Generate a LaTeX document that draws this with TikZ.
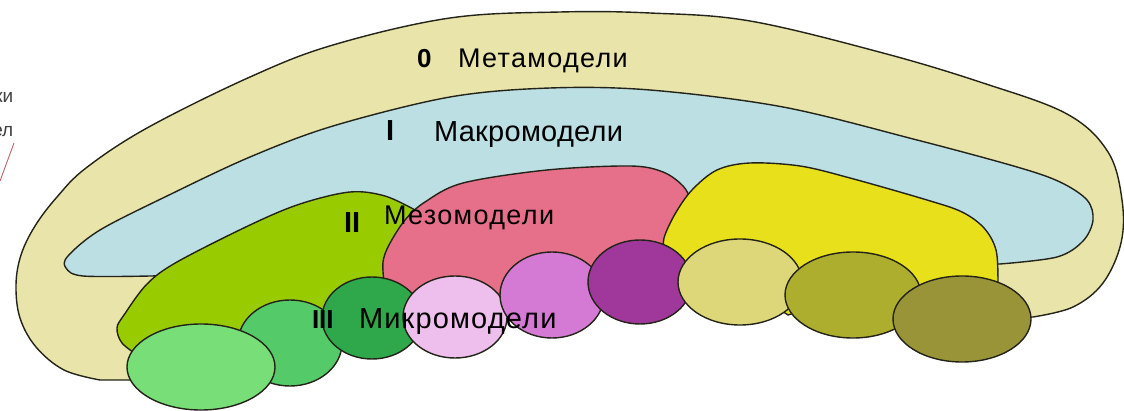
\documentclass[tikz,border=0pt]{standalone}
\usepackage{fontspec}
\setmainfont{Liberation Sans}
\usetikzlibrary{shapes.geometric}
\definecolor{cbeige}{RGB}{232,228,170}
\definecolor{cblue}{RGB}{188,223,228}
\definecolor{cgreen}{RGB}{153,204,0}
\definecolor{cpink}{RGB}{230,112,138}
\definecolor{cyellow}{RGB}{232,224,26}
\definecolor{eA}{RGB}{120,222,120}
\definecolor{eB}{RGB}{85,202,104}
\definecolor{eC}{RGB}{46,168,74}
\definecolor{eD}{RGB}{238,190,236}
\definecolor{eE}{RGB}{212,122,212}
\definecolor{eF}{RGB}{160,56,155}
\definecolor{eG}{RGB}{221,215,122}
\definecolor{eH}{RGB}{174,174,46}
\definecolor{eI}{RGB}{153,148,56}
\definecolor{cline}{RGB}{35,35,25}
\tikzset{
  region/.style={draw=cline, line width=1.4pt, line join=round},
  ell/.style={ellipse, draw=cline, line width=1.4pt, inner sep=0pt, outer sep=0pt},
  lbl/.style={inner sep=0pt, outer sep=0pt, anchor=base west, text=black},
  num/.style={lbl, font=\bfseries},
  frag/.style={inner sep=0pt, anchor=base east, text=black!75, font=\fontsize{19}{19}\selectfont},
}
\begin{document}
\begin{tikzpicture}[x=1pt,y=-1pt]
\useasboundingbox (0,0) rectangle (1124,411);
\clip (0,0) rectangle (1124,411);
% fragment of a neighbouring picture at the left edge
\node[frag] (fra) at (13.5,103) {ки};
\node[frag] (frb) at (13.5,137) {ел};
\coordinate (ra) at (14,143);
\coordinate (rb) at (0,181);
\draw[red!55!black!60, line width=0.9pt] (ra) -- (rb);
% 0 meta
\path[region, fill=cbeige] plot[smooth, tension=0.6] coordinates {(100,380) (64,370) (36,347) (20,318) (16,285) (21,255) (35,226) (57,197) (86,168) (147,128) (250,77) (333,45) (450,18) (560,12) (650,13) (750,21) (883,53) (983,83) (1067,114) (1108,152) (1122,200) (1121,243) (1103,283) (1073,307) (1033,317)}
 -- (962,319) -- (853,295) -- (740,282) -- (640,282) -- (552,295) -- (455,317) -- (372,318) -- (290,343) -- (201,367) -- (130,380) -- cycle;
% I macro
\path[region, fill=cblue] plot[smooth, tension=0.55] coordinates {(150,276) (83,276) (66,268) (68,256) (100,230) (167,196) (250,157) (333,126) (450,97) (550,88) (650,90) (783,107) (917,140) (1017,167) (1060,182) (1087,200) (1093,220) (1083,241) (1057,257) (1000,264)}
 -- (850,266) -- (700,268) -- (400,272) -- cycle;
% II meso
\path[region, fill=cgreen] plot[smooth, tension=0.55] coordinates {(140,357) (122,343) (117,328) (124,315) (147,284) (177,262) (250,225) (300,204) (350,192) (385,196) (415,210)}
 -- (430,270) -- (372,318) -- (290,343) -- (201,367) -- cycle;
\path[region, fill=cpink] plot[smooth, tension=0.55] coordinates {(384,283) (383,262) (389,245) (405,220) (425,202) (463,183) (547,170) (630,166) (663,172) (683,186) (690,200) (688,215)}
 -- (680,260) -- (640,282) -- (552,295) -- (455,317) -- (372,318) -- cycle;
\path[region, fill=cyellow] plot[smooth, tension=0.55] coordinates {(664,253) (664,238) (675,214) (692,190) (717,170) (750,163) (800,166) (850,178) (927,200) (962,212) (984,228) (996,250) (998,282) (997,298)}
 -- (962,319) -- (853,295) -- (788,315) -- (740,282) -- (640,282) -- cycle;
% III micro
\node[ell, fill=eB, minimum width=104pt, minimum height=86pt] (e2) at (290,343) {};
\node[ell, fill=eA, minimum width=148pt, minimum height=86pt] (e1) at (201,367) {};
\node[ell, fill=eC, minimum width=100pt, minimum height=82pt] (e3) at (372,318) {};
\node[ell, fill=eD, minimum width=104pt, minimum height=82pt] (e4) at (455,317) {};
\node[ell, fill=eE, minimum width=104pt, minimum height=86pt] (e5) at (552,295) {};
\node[ell, fill=eF, minimum width=104pt, minimum height=84pt] (e6) at (640,282) {};
\node[ell, fill=eG, minimum width=124pt, minimum height=86pt] (e7) at (740,282) {};
\node[ell, fill=eH, minimum width=136pt, minimum height=86pt] (e8) at (853,295) {};
\node[ell, fill=eI, minimum width=138pt, minimum height=86pt] (e9) at (962,319) {};
% labels
\node[num, font=\fontsize{26}{26}\selectfont\bfseries] (n0) at (417,68) {0};
\node[lbl, font=\fontsize{27}{27}\selectfont\addfontfeatures{LetterSpace=5}] (t0) at (458,68) {Метамодели};
\node[num, font=\fontsize{29}{29}\selectfont\bfseries] (n1) at (386,141) {I};
\node[lbl, font=\fontsize{29}{29}\selectfont\addfontfeatures{LetterSpace=1}] (t1) at (434,142) {Макромодели};
\node[num, font=\fontsize{29}{29}\selectfont\bfseries] (n2) at (344,233) {II};
\node[lbl, font=\fontsize{27}{27}\selectfont\addfontfeatures{LetterSpace=5}] (t2) at (384,225) {Мезомодели};
\node[num, font=\fontsize{26}{26}\selectfont\bfseries] (n3) at (312,329) {III};
\node[lbl, font=\fontsize{29}{29}\selectfont\addfontfeatures{LetterSpace=4}] (t3) at (359,329) {Микромодели};
\end{tikzpicture}
\end{document}
